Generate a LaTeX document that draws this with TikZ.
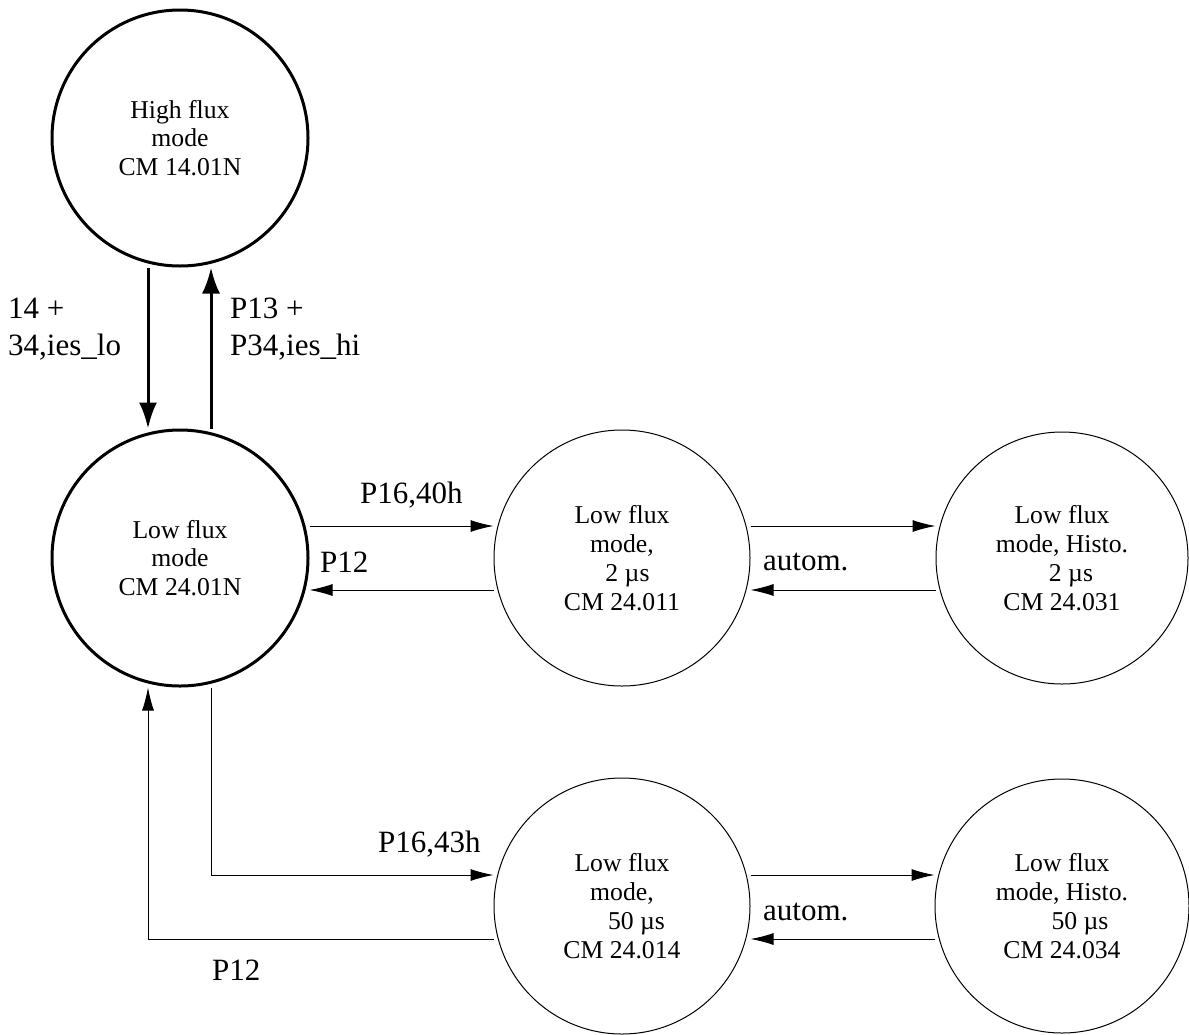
\documentclass[tikz,border=0pt]{standalone}
\usepackage{fontspec}
\setmainfont{Liberation Serif}
\usetikzlibrary{arrows.meta}
\begin{document}
\begin{tikzpicture}[x=1pt,y=-1pt,
  thickst/.style={circle,draw,line width=3pt,minimum size=256pt,inner sep=0pt,align=center,
    font=\fontsize{25.7}{28.5}\selectfont},
  thinst/.style={circle,draw,line width=1pt,minimum size=256pt,inner sep=0pt,align=center,
    font=\fontsize{25.7}{29}\selectfont},
  thickarr/.style={line width=3pt,-{Latex[length=26pt,width=18pt]}},
  thinarr/.style={line width=1pt,-{Latex[length=23pt,width=12pt]}},
  lbl/.style={font=\fontsize{31}{37}\selectfont,inner sep=0pt,anchor=base west}]
\useasboundingbox (0,0) rectangle (1189,1034);
\node[thickst] (HF) at (180,138) {High flux\\mode\\CM 14.01N};
\node[thickst] (LF) at (180,558) {Low flux\\mode\\CM 24.01N};
\node[thinst] (M1) at (622,558) {Low flux\\mode,\\\hspace*{11pt}2 µs\\CM 24.011};
\node[thinst,minimum size=252pt] (R1) at (1062,558) {Low flux\\mode, Histo.\\\hspace*{18pt}2 µs\\CM 24.031};
\node[thinst] (M2) at (622,906) {Low flux\\mode,\\\hspace*{29pt}50 µs\\CM 24.014};
\node[thinst,minimum size=254pt] (R2) at (1062,906) {Low flux\\mode, Histo.\\\hspace*{36pt}50 µs\\CM 24.034};
% high <-> low
\draw[thickarr] ([xshift=-32pt]HF.south) -- ([xshift=-32pt]LF.north);
\draw[thickarr] ([xshift=31pt]LF.north) -- ([xshift=31pt]HF.south);
\node[lbl] (l1) at (8,318) {14 +};
\node[lbl] (l2) at (8,355) {34,ies\_lo};
\node[lbl] (l3) at (230,318) {P13 +};
\node[lbl] (l4) at (230,355) {P34,ies\_hi};
% top row
\draw[thinarr] ([yshift=32pt]LF.east) -- ([yshift=32pt]M1.west);
\draw[thinarr] ([yshift=-32pt]M1.west) -- ([yshift=-32pt]LF.east);
\draw[thinarr] ([yshift=32pt]M1.east) -- ([yshift=32pt]R1.west);
\draw[thinarr] ([yshift=-32pt]R1.west) -- ([yshift=-32pt]M1.east);
\node[lbl] (l5) at (360,503) {P16,40h};
\node[lbl] (l6) at (320,572) {P12};
\node[lbl] (l7) at (763,570) {autom.};
% bottom row
\draw[thinarr] ([xshift=31pt]LF.south) |- ([yshift=31pt]M2.west);
\draw[thinarr] ([yshift=-33pt]M2.west) -| ([xshift=-32pt]LF.south);
\draw[thinarr] ([yshift=31pt]M2.east) -- ([yshift=31pt]R2.west);
\draw[thinarr] ([yshift=-33pt]R2.west) -- ([yshift=-33pt]M2.east);
\node[lbl] (l8) at (378,852) {P16,43h};
\node[lbl] (l9) at (212,980) {P12};
\node[lbl] (l10) at (763,920) {autom.};
\end{tikzpicture}
\end{document}
